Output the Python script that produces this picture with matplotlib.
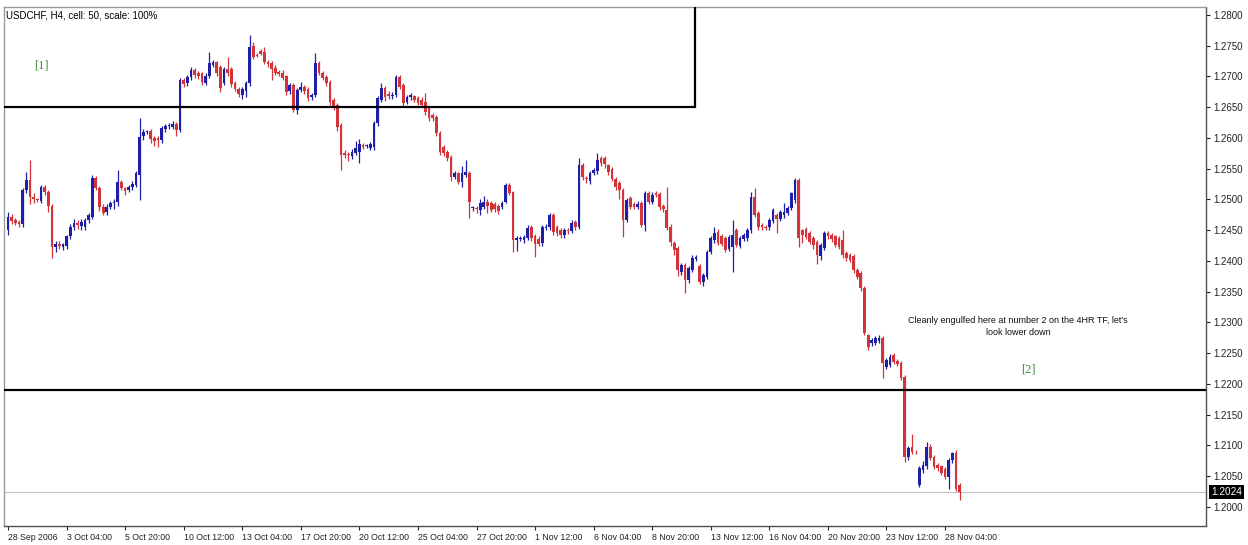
import matplotlib

matplotlib.use("Agg")
import matplotlib.pyplot as plt
import matplotlib.transforms as mtransforms
from matplotlib.patches import Rectangle
import numpy as np

plt.rcParams["font.family"] = ["Liberation Sans", "DejaVu Sans"]

# ─── USDCHF H4 candles ───────────────────────────────────────────────────────

opens = [
    1.2450, 1.2472, 1.2466, 1.2463, 1.2460, 1.2515, 1.2532, 1.2504, 1.2500, 1.2498,
    1.2521, 1.2512, 1.2490, 1.2423, 1.2428, 1.2423, 1.2425, 1.2440, 1.2455, 1.2462,
    1.2457, 1.2455, 1.2466, 1.2472, 1.2535, 1.2519, 1.2488, 1.2479, 1.2488, 1.2494,
    1.2496, 1.2528, 1.2518, 1.2515, 1.2520, 1.2524, 1.2540, 1.2603, 1.2610, 1.2612,
    1.2600, 1.2600, 1.2596, 1.2614, 1.2619, 1.2618, 1.2623, 1.2613, 1.2694, 1.2689,
    1.2699, 1.2710, 1.2706, 1.2705, 1.2690, 1.2700, 1.2719, 1.2723, 1.2715, 1.2690,
    1.2713, 1.2712, 1.2690, 1.2680, 1.2670, 1.2676, 1.2689, 1.2750, 1.2735, 1.2742,
    1.2740, 1.2724, 1.2722, 1.2714, 1.2708, 1.2706, 1.2700, 1.2676, 1.2686, 1.2645,
    1.2678, 1.2683, 1.2680, 1.2666, 1.2670, 1.2722, 1.2706, 1.2699, 1.2691, 1.2662,
    1.2654, 1.2621, 1.2575, 1.2574, 1.2570, 1.2576, 1.2578, 1.2588, 1.2587, 1.2584,
    1.2585, 1.2624, 1.2662, 1.2681, 1.2672, 1.2668, 1.2670, 1.2699, 1.2686, 1.2659,
    1.2666, 1.2668, 1.2665, 1.2662, 1.2659, 1.2649, 1.2637, 1.2634, 1.2608, 1.2585,
    1.2578, 1.2569, 1.2537, 1.2543, 1.2529, 1.2540, 1.2543, 1.2486, 1.2486, 1.2483,
    1.2488, 1.2496, 1.2494, 1.2492, 1.2490, 1.2488, 1.2496, 1.2524, 1.2512, 1.2434,
    1.2436, 1.2434, 1.2437, 1.2455, 1.2440, 1.2436, 1.2429, 1.2454, 1.2455, 1.2474,
    1.2455, 1.2450, 1.2442, 1.2450, 1.2448, 1.2463, 1.2455, 1.2556, 1.2535, 1.2530,
    1.2543, 1.2546, 1.2567, 1.2567, 1.2556, 1.2550, 1.2534, 1.2527, 1.2515, 1.2467,
    1.2502, 1.2493, 1.2488, 1.2494, 1.2459, 1.2511, 1.2496, 1.2511, 1.2509, 1.2490,
    1.2483, 1.2456, 1.2430, 1.2421, 1.2382, 1.2393, 1.2369, 1.2386, 1.2403, 1.2392,
    1.2366, 1.2374, 1.2415, 1.2434, 1.2447, 1.2440, 1.2437, 1.2420, 1.2422, 1.2450,
    1.2425, 1.2436, 1.2437, 1.2450, 1.2504, 1.2478, 1.2459, 1.2456, 1.2455, 1.2465,
    1.2475, 1.2469, 1.2474, 1.2478, 1.2486, 1.2499, 1.2532, 1.2450, 1.2452, 1.2445,
    1.2437, 1.2431, 1.2408, 1.2421, 1.2446, 1.2443, 1.2440, 1.2438, 1.2434, 1.2413,
    1.2410, 1.2408, 1.2386, 1.2380, 1.2356, 1.2280, 1.2266, 1.2267, 1.2270, 1.2275,
    1.2228, 1.2231, 1.2247, 1.2237, 1.2234, 1.2212, 1.2081, 1.2098, 1.2090, 1.2036,
    1.2060, 1.2066, 1.2097, 1.2081, 1.2068, 1.2066, 1.2062, 1.2048, 1.2076, 1.2088,
    1.2036,
]
highs = [
    1.2480, 1.2476, 1.2470, 1.2466, 1.2518, 1.2545, 1.2564, 1.2510, 1.2503, 1.2523,
    1.2524, 1.2515, 1.2492, 1.2432, 1.2433, 1.2430, 1.2443, 1.2460, 1.2468, 1.2466,
    1.2468, 1.2470, 1.2478, 1.2540, 1.2538, 1.2522, 1.2492, 1.2492, 1.2497, 1.2500,
    1.2548, 1.2532, 1.2521, 1.2524, 1.2530, 1.2547, 1.2633, 1.2615, 1.2613, 1.2615,
    1.2603, 1.2604, 1.2619, 1.2623, 1.2625, 1.2627, 1.2626, 1.2697, 1.2697, 1.2703,
    1.2716, 1.2714, 1.2709, 1.2708, 1.2705, 1.2740, 1.2727, 1.2726, 1.2718, 1.2716,
    1.2732, 1.2716, 1.2693, 1.2683, 1.2683, 1.2693, 1.2767, 1.2756, 1.2738, 1.2745,
    1.2748, 1.2727, 1.2725, 1.2718, 1.2711, 1.2710, 1.2703, 1.2690, 1.2690, 1.2681,
    1.2691, 1.2686, 1.2683, 1.2673, 1.2738, 1.2725, 1.2709, 1.2702, 1.2694, 1.2665,
    1.2657, 1.2625, 1.2580, 1.2578, 1.2582, 1.2595, 1.2598, 1.2592, 1.2591, 1.2594,
    1.2627, 1.2668, 1.2690, 1.2685, 1.2676, 1.2674, 1.2703, 1.2703, 1.2690, 1.2670,
    1.2673, 1.2670, 1.2668, 1.2666, 1.2673, 1.2652, 1.2640, 1.2637, 1.2611, 1.2588,
    1.2580, 1.2572, 1.2547, 1.2545, 1.2555, 1.2564, 1.2546, 1.2490, 1.2490, 1.2500,
    1.2505, 1.2500, 1.2497, 1.2496, 1.2493, 1.2498, 1.2527, 1.2527, 1.2514, 1.2440,
    1.2440, 1.2442, 1.2458, 1.2458, 1.2444, 1.2440, 1.2458, 1.2460, 1.2478, 1.2478,
    1.2458, 1.2454, 1.2453, 1.2453, 1.2466, 1.2466, 1.2567, 1.2560, 1.2538, 1.2547,
    1.2551, 1.2576, 1.2570, 1.2570, 1.2558, 1.2553, 1.2537, 1.2530, 1.2518, 1.2502,
    1.2505, 1.2496, 1.2497, 1.2497, 1.2514, 1.2514, 1.2512, 1.2514, 1.2512, 1.2493,
    1.2520, 1.2460, 1.2432, 1.2424, 1.2396, 1.2396, 1.2392, 1.2409, 1.2410, 1.2395,
    1.2380, 1.2418, 1.2440, 1.2455, 1.2452, 1.2444, 1.2440, 1.2442, 1.2466, 1.2454,
    1.2441, 1.2445, 1.2453, 1.2513, 1.2519, 1.2481, 1.2462, 1.2459, 1.2470, 1.2486,
    1.2478, 1.2483, 1.2495, 1.2489, 1.2513, 1.2535, 1.2535, 1.2452, 1.2455, 1.2448,
    1.2440, 1.2434, 1.2430, 1.2449, 1.2449, 1.2446, 1.2443, 1.2441, 1.2450, 1.2416,
    1.2413, 1.2411, 1.2389, 1.2383, 1.2359, 1.2282, 1.2275, 1.2278, 1.2280, 1.2278,
    1.2242, 1.2248, 1.2250, 1.2240, 1.2237, 1.2214, 1.2099, 1.2118, 1.2092, 1.2066,
    1.2074, 1.2106, 1.2102, 1.2085, 1.2072, 1.2069, 1.2065, 1.2079, 1.2090, 1.2092,
    1.2039,
]
lows = [
    1.2442, 1.2460, 1.2458, 1.2456, 1.2455, 1.2510, 1.2492, 1.2494, 1.2496, 1.2494,
    1.2508, 1.2480, 1.2405, 1.2415, 1.2420, 1.2418, 1.2420, 1.2436, 1.2450, 1.2452,
    1.2450, 1.2450, 1.2462, 1.2468, 1.2515, 1.2482, 1.2474, 1.2475, 1.2484, 1.2485,
    1.2490, 1.2515, 1.2508, 1.2512, 1.2516, 1.2520, 1.2499, 1.2597, 1.2607, 1.2592,
    1.2587, 1.2585, 1.2592, 1.2610, 1.2615, 1.2614, 1.2603, 1.2610, 1.2683, 1.2684,
    1.2695, 1.2698, 1.2696, 1.2686, 1.2686, 1.2697, 1.2715, 1.2701, 1.2674, 1.2686,
    1.2700, 1.2683, 1.2676, 1.2667, 1.2664, 1.2667, 1.2685, 1.2728, 1.2731, 1.2735,
    1.2720, 1.2716, 1.2695, 1.2702, 1.2700, 1.2694, 1.2670, 1.2672, 1.2642, 1.2639,
    1.2674, 1.2672, 1.2660, 1.2662, 1.2667, 1.2702, 1.2694, 1.2685, 1.2654, 1.2645,
    1.2612, 1.2548, 1.2568, 1.2562, 1.2566, 1.2572, 1.2559, 1.2582, 1.2584, 1.2580,
    1.2580, 1.2620, 1.2658, 1.2660, 1.2664, 1.2664, 1.2666, 1.2679, 1.2652, 1.2655,
    1.2662, 1.2658, 1.2653, 1.2650, 1.2638, 1.2628, 1.2628, 1.2604, 1.2572, 1.2570,
    1.2563, 1.2530, 1.2534, 1.2525, 1.2520, 1.2536, 1.2470, 1.2482, 1.2478, 1.2474,
    1.2484, 1.2478, 1.2480, 1.2480, 1.2477, 1.2484, 1.2494, 1.2508, 1.2415, 1.2417,
    1.2432, 1.2430, 1.2434, 1.2432, 1.2406, 1.2424, 1.2425, 1.2450, 1.2450, 1.2443,
    1.2441, 1.2438, 1.2438, 1.2444, 1.2445, 1.2450, 1.2452, 1.2532, 1.2527, 1.2525,
    1.2540, 1.2542, 1.2555, 1.2552, 1.2540, 1.2530, 1.2516, 1.2500, 1.2439, 1.2464,
    1.2484, 1.2484, 1.2484, 1.2455, 1.2448, 1.2492, 1.2492, 1.2504, 1.2483, 1.2480,
    1.2450, 1.2425, 1.2410, 1.2375, 1.2378, 1.2348, 1.2364, 1.2382, 1.2400, 1.2362,
    1.2360, 1.2370, 1.2411, 1.2430, 1.2426, 1.2424, 1.2414, 1.2416, 1.2382, 1.2422,
    1.2421, 1.2432, 1.2433, 1.2446, 1.2471, 1.2451, 1.2451, 1.2450, 1.2451, 1.2461,
    1.2446, 1.2465, 1.2470, 1.2475, 1.2483, 1.2495, 1.2422, 1.2430, 1.2435, 1.2427,
    1.2420, 1.2395, 1.2402, 1.2418, 1.2436, 1.2431, 1.2422, 1.2419, 1.2405, 1.2400,
    1.2398, 1.2380, 1.2370, 1.2352, 1.2280, 1.2255, 1.2262, 1.2263, 1.2266, 1.2210,
    1.2224, 1.2228, 1.2232, 1.2229, 1.2206, 1.2073, 1.2077, 1.2086, 1.2086, 1.2032,
    1.2056, 1.2062, 1.2076, 1.2061, 1.2058, 1.2052, 1.2045, 1.2030, 1.2072, 1.2026,
    1.2012,
]
closes = [
    1.2472, 1.2465, 1.2462, 1.2460, 1.2515, 1.2532, 1.2504, 1.2500, 1.2499, 1.2520,
    1.2512, 1.2489, 1.2423, 1.2428, 1.2424, 1.2427, 1.2440, 1.2455, 1.2462, 1.2458,
    1.2463, 1.2466, 1.2475, 1.2535, 1.2519, 1.2488, 1.2478, 1.2488, 1.2494, 1.2496,
    1.2528, 1.2518, 1.2514, 1.2520, 1.2526, 1.2543, 1.2602, 1.2610, 1.2611, 1.2598,
    1.2595, 1.2596, 1.2616, 1.2620, 1.2621, 1.2623, 1.2613, 1.2694, 1.2687, 1.2699,
    1.2711, 1.2702, 1.2700, 1.2691, 1.2700, 1.2722, 1.2723, 1.2705, 1.2681, 1.2713,
    1.2705, 1.2688, 1.2680, 1.2671, 1.2680, 1.2690, 1.2748, 1.2732, 1.2734, 1.2737,
    1.2724, 1.2720, 1.2713, 1.2706, 1.2704, 1.2698, 1.2675, 1.2686, 1.2646, 1.2678,
    1.2683, 1.2676, 1.2665, 1.2670, 1.2722, 1.2706, 1.2698, 1.2689, 1.2659, 1.2650,
    1.2618, 1.2572, 1.2573, 1.2572, 1.2578, 1.2584, 1.2590, 1.2586, 1.2588, 1.2590,
    1.2624, 1.2665, 1.2681, 1.2667, 1.2668, 1.2670, 1.2699, 1.2683, 1.2657, 1.2667,
    1.2670, 1.2662, 1.2657, 1.2654, 1.2642, 1.2633, 1.2632, 1.2608, 1.2577, 1.2576,
    1.2567, 1.2537, 1.2543, 1.2529, 1.2543, 1.2544, 1.2496, 1.2486, 1.2484, 1.2494,
    1.2496, 1.2490, 1.2483, 1.2484, 1.2481, 1.2494, 1.2524, 1.2511, 1.2434, 1.2437,
    1.2436, 1.2439, 1.2454, 1.2438, 1.2427, 1.2428, 1.2455, 1.2456, 1.2475, 1.2447,
    1.2445, 1.2442, 1.2450, 1.2448, 1.2462, 1.2455, 1.2556, 1.2537, 1.2533, 1.2543,
    1.2548, 1.2564, 1.2559, 1.2557, 1.2545, 1.2534, 1.2520, 1.2516, 1.2467, 1.2499,
    1.2488, 1.2488, 1.2493, 1.2459, 1.2510, 1.2496, 1.2508, 1.2508, 1.2487, 1.2484,
    1.2454, 1.2431, 1.2418, 1.2385, 1.2393, 1.2369, 1.2389, 1.2405, 1.2407, 1.2366,
    1.2377, 1.2415, 1.2437, 1.2446, 1.2430, 1.2428, 1.2418, 1.2439, 1.2442, 1.2426,
    1.2438, 1.2442, 1.2450, 1.2504, 1.2475, 1.2455, 1.2455, 1.2454, 1.2467, 1.2483,
    1.2469, 1.2480, 1.2479, 1.2486, 1.2510, 1.2532, 1.2437, 1.2442, 1.2439, 1.2431,
    1.2426, 1.2410, 1.2426, 1.2446, 1.2440, 1.2435, 1.2426, 1.2423, 1.2410, 1.2405,
    1.2402, 1.2385, 1.2374, 1.2356, 1.2283, 1.2260, 1.2271, 1.2275, 1.2275, 1.2234,
    1.2239, 1.2244, 1.2236, 1.2233, 1.2210, 1.2081, 1.2096, 1.2090, 1.2089, 1.2063,
    1.2068, 1.2097, 1.2080, 1.2065, 1.2063, 1.2056, 1.2048, 1.2076, 1.2087, 1.2030,
    1.2024,
]

# one label every 16 bars
date_labels = [
    "28 Sep 2006", "3 Oct 04:00", "5 Oct 20:00", "10 Oct 12:00", "13 Oct 04:00",
    "17 Oct 20:00", "20 Oct 12:00", "25 Oct 04:00", "27 Oct 20:00", "1 Nov 12:00",
    "6 Nov 04:00", "8 Nov 20:00", "13 Nov 12:00", "16 Nov 04:00", "20 Nov 20:00",
    "23 Nov 12:00", "28 Nov 04:00",
]

zone_top_bottom = 1.2650      # box [1] lower edge
zone_top_right_bar = 187.7    # box [1] right edge (bar index)
support_level = 1.2191        # line under [2]
last_price = closes[-1]

BULL = "#1e1ea6"
BEAR = "#d3343a"

W, H = 1248, 545
fig = plt.figure(figsize=(W / 100, H / 100), dpi=100)
ax = fig.add_axes([4 / W, 19 / H, 1202 / W, 519 / H])

o = np.array(opens)
c = np.array(closes)
hi = np.array(highs)
lo = np.array(lows)
x = np.arange(len(c))
cols = np.where(c >= o, BULL, BEAR)

ax.vlines(x, lo, hi, colors=cols, linewidth=0.9, zorder=3)
body_lo = np.minimum(o, c)
body_h = np.maximum(np.abs(c - o), 0.0001)
ax.bar(x, body_h, bottom=body_lo, width=0.74, color=cols, linewidth=0, zorder=4)

# zone box [1] and line [2]
ax.add_patch(
    Rectangle(
        (-10, zone_top_bottom), zone_top_right_bar + 10, 0.05,
        fill=False, edgecolor="black", linewidth=1.6, zorder=5,
    )
)
ax.axhline(support_level, color="black", linewidth=1.6, zorder=5)
ax.axhline(last_price, color="#c4c4c4", linewidth=0.8, zorder=1)

ax.set_xlim(-1.09, 327.3)
ax.set_ylim(1.19691, 1.28130)

# price axis on the right
ax.yaxis.tick_right()
ax.set_yticks(np.arange(1.2000, 1.28001, 0.0050))
ax.yaxis.set_major_formatter(matplotlib.ticker.FormatStrFormatter("%.4f"))
ax.tick_params(axis="y", direction="out", length=3, width=0.8, pad=2,
               labelsize=7, colors="#222222")

ax.set_xticks(np.arange(len(date_labels)) * 16)
ax.set_xticklabels(date_labels, ha="left")
ax.tick_params(axis="x", direction="out", length=3, width=0.8, pad=2,
               labelsize=6.3, colors="#222222")

for side in ("left", "top"):
    ax.spines[side].set_color("#9a9a9a")
for side in ("right", "bottom"):
    ax.spines[side].set_color("#505050")
for sp in ax.spines.values():
    sp.set_linewidth(1.0)

# current price tag
trans = mtransforms.blended_transform_factory(ax.transAxes, ax.transData)
ax.text(1.0 + 5 / 1202, last_price, f"{last_price:.4f}", transform=trans,
        ha="left", va="center", fontsize=7.2, color="white", clip_on=False,
        bbox=dict(boxstyle="square,pad=0.22", facecolor="black", edgecolor="none"))

fig.text(6 / W, 1 - 15 / H, "USDCHF, H4, cell: 50, scale: 100%",
         ha="left", va="center", fontsize=7, color="black")

ax.text(9.0, 1.27171, "[1]", ha="center", va="center", fontsize=9,
        color="#3b8a3b", family="Liberation Serif")
ax.text(278.7, 1.22228, "[2]", ha="center", va="center", fontsize=9,
        color="#3b8a3b", family="Liberation Serif")
ax.text(276.0, 1.22935,
        "Cleanly engulfed here at number 2 on the 4HR TF, let's\nlook lower down",
        ha="center", va="center", fontsize=6.5, linespacing=1.45, color="#111111")

fig.savefig("out.png", dpi=100)
